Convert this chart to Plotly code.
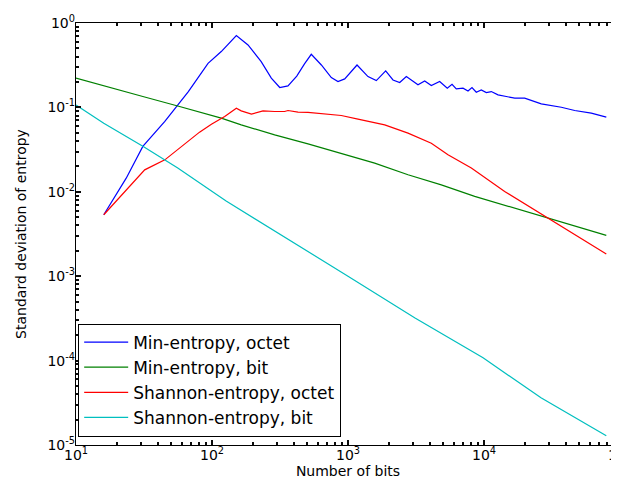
import plotly.graph_objects as go

# ---- data ----
n_min_octet = [16, 23.4, 31, 45, 67, 93.5, 117, 151, 184, 230, 273, 315, 362, 420, 480, 537,
               637, 754, 844, 946, 1165, 1403, 1615, 1893, 2142, 2400, 2685, 3270, 3664, 4099,
               4721, 5370, 5820, 6253, 7012, 7630, 8160, 8775, 9550, 10400, 11320, 12680, 14590,
               16830, 19910, 26370, 37000, 46450, 61500, 79300]
min_octet = [0.00535, 0.0145, 0.0345, 0.0681, 0.154, 0.333, 0.459, 0.709, 0.549, 0.349, 0.222,
             0.172, 0.18, 0.235, 0.33, 0.426, 0.318, 0.226, 0.2025, 0.2175, 0.318, 0.232, 0.208,
             0.2704, 0.2115, 0.197, 0.232, 0.185, 0.206, 0.1816, 0.2025, 0.1687, 0.188, 0.1656,
             0.1687, 0.1568, 0.172, 0.1513, 0.161, 0.150, 0.154, 0.1406, 0.1346, 0.1285, 0.1285,
             0.110, 0.1005, 0.0919, 0.0854, 0.0766]

n_min_bit = [10, 16, 31, 56, 81, 117, 164, 289, 508, 893, 1571, 2762, 4853, 8545, 15000,
             26370, 46450, 79300]
min_bit = [0.222, 0.1816, 0.1346, 0.104, 0.0878, 0.0745, 0.0621, 0.0473, 0.037, 0.0287, 0.0219,
           0.0159, 0.0121, 0.00883, 0.00672, 0.00512, 0.0039, 0.00305]

n_sh_octet = [16, 23.4, 32, 45, 56, 67, 81, 99, 124, 151, 164, 195, 237, 289, 342, 362, 429, 508,
              713, 893, 1184, 1862, 2762, 4099, 5435, 8070, 14190, 23600, 31260, 51920, 79300]
sh_octet = [0.00535, 0.0103, 0.0182, 0.0239, 0.0314, 0.0395, 0.0509, 0.0633, 0.078, 0.0978,
            0.0909, 0.0831, 0.0909, 0.0894, 0.0894, 0.0919, 0.0878, 0.0875, 0.0831, 0.0802,
            0.0725, 0.0621, 0.0495, 0.0377, 0.0274, 0.0191, 0.0101, 0.00612, 0.00467, 0.00283,
            0.00183]

n_sh_bit = [10, 16, 31, 56, 127, 508, 1000, 3110, 9840, 26240, 79300]
sh_bit = [0.107, 0.065, 0.0347, 0.0191, 0.00776, 0.00199, 0.001, 0.00032, 0.000108, 3.62e-5,
          1.285e-5]

series_names = ["Min-entropy, octet", "Min-entropy, bit", "Shannon-entropy, octet",
                "Shannon-entropy, bit"]
series_colors = ["#0000ff", "#008000", "#ff0000", "#00bfbf"]

x_tick_exp = [1, 2, 3, 4, 5]
y_tick_exp = [0, -1, -2, -3, -4, -5]
x_range = [1, 5]
y_range = [-5, 0]

FONT = "DejaVu Sans"
TICK_COLOR = "#0a0a0a"

fig = go.Figure()
for xs, ys, name, col in zip([n_min_octet, n_min_bit, n_sh_octet, n_sh_bit],
                             [min_octet, min_bit, sh_octet, sh_bit],
                             series_names, series_colors):
    fig.add_trace(go.Scatter(x=xs, y=ys, mode="lines", name=name,
                             line=dict(color=col, width=1.2)))

# invisible helper trace so the label-only overlay axes get drawn
fig.add_trace(go.Scatter(x=[n_sh_bit[0]], y=[sh_bit[0]], xaxis="x2", yaxis="y2",
                         mode="markers", marker=dict(opacity=0), showlegend=False,
                         hoverinfo="skip"))


def exp_label(e):
    return "10<sup>%d</sup>" % e


# frame axes: ticks on all four sides, no labels
frame_axis = dict(
    type="log",
    showgrid=False,
    zeroline=False,
    showline=True,
    linecolor="black",
    linewidth=1,
    mirror="allticks",
    ticks="inside",
    ticklen=5,
    tickwidth=2,
    tickcolor=TICK_COLOR,
    tick0=0,
    dtick=1,
    showticklabels=False,
    automargin=False,
    minor=dict(ticks="inside", ticklen=3, tickwidth=2, tickcolor=TICK_COLOR, dtick="D1",
               showgrid=False),
)

# label axes: only tick labels and titles
label_axis = dict(
    type="log",
    showgrid=False,
    zeroline=False,
    showline=False,
    ticks="",
    tickmode="array",
    ticklabeloverflow="allow",
    automargin=False,
    tickfont=dict(family=FONT, size=14, color="black"),
)

fig.update_layout(
    template="none",
    width=619,
    height=485,
    margin=dict(l=68, r=7, t=15, b=48),
    plot_bgcolor="white",
    paper_bgcolor="white",
    font=dict(family=FONT, color="black"),
    showlegend=True,
    xaxis=dict(**frame_axis, range=x_range),
    yaxis=dict(**frame_axis, range=y_range),
    xaxis2=dict(**label_axis, range=x_range, overlaying="x", side="bottom",
                tickvals=[10 ** e for e in x_tick_exp],
                ticktext=[exp_label(e) for e in x_tick_exp],
                title=dict(text="Number of bits",
                           font=dict(family=FONT, size=14, color="black"), standoff=4)),
    yaxis2=dict(**label_axis, range=y_range, overlaying="y", side="left",
                tickvals=[10 ** e for e in y_tick_exp],
                ticktext=[exp_label(e) for e in y_tick_exp],
                title=dict(text="Standard deviation of entropy",
                           font=dict(family=FONT, size=14, color="black"), standoff=17)),
    legend=dict(
        x=0.004, y=0.02, xanchor="left", yanchor="bottom",
        bgcolor="white", bordercolor="black", borderwidth=1,
        font=dict(family=FONT, size=17, color="black"),
        itemwidth=44,
        entrywidth=210,
        entrywidthmode="pixels",
        tracegroupgap=0,
    ),
)

fig.write_html("out.html")
